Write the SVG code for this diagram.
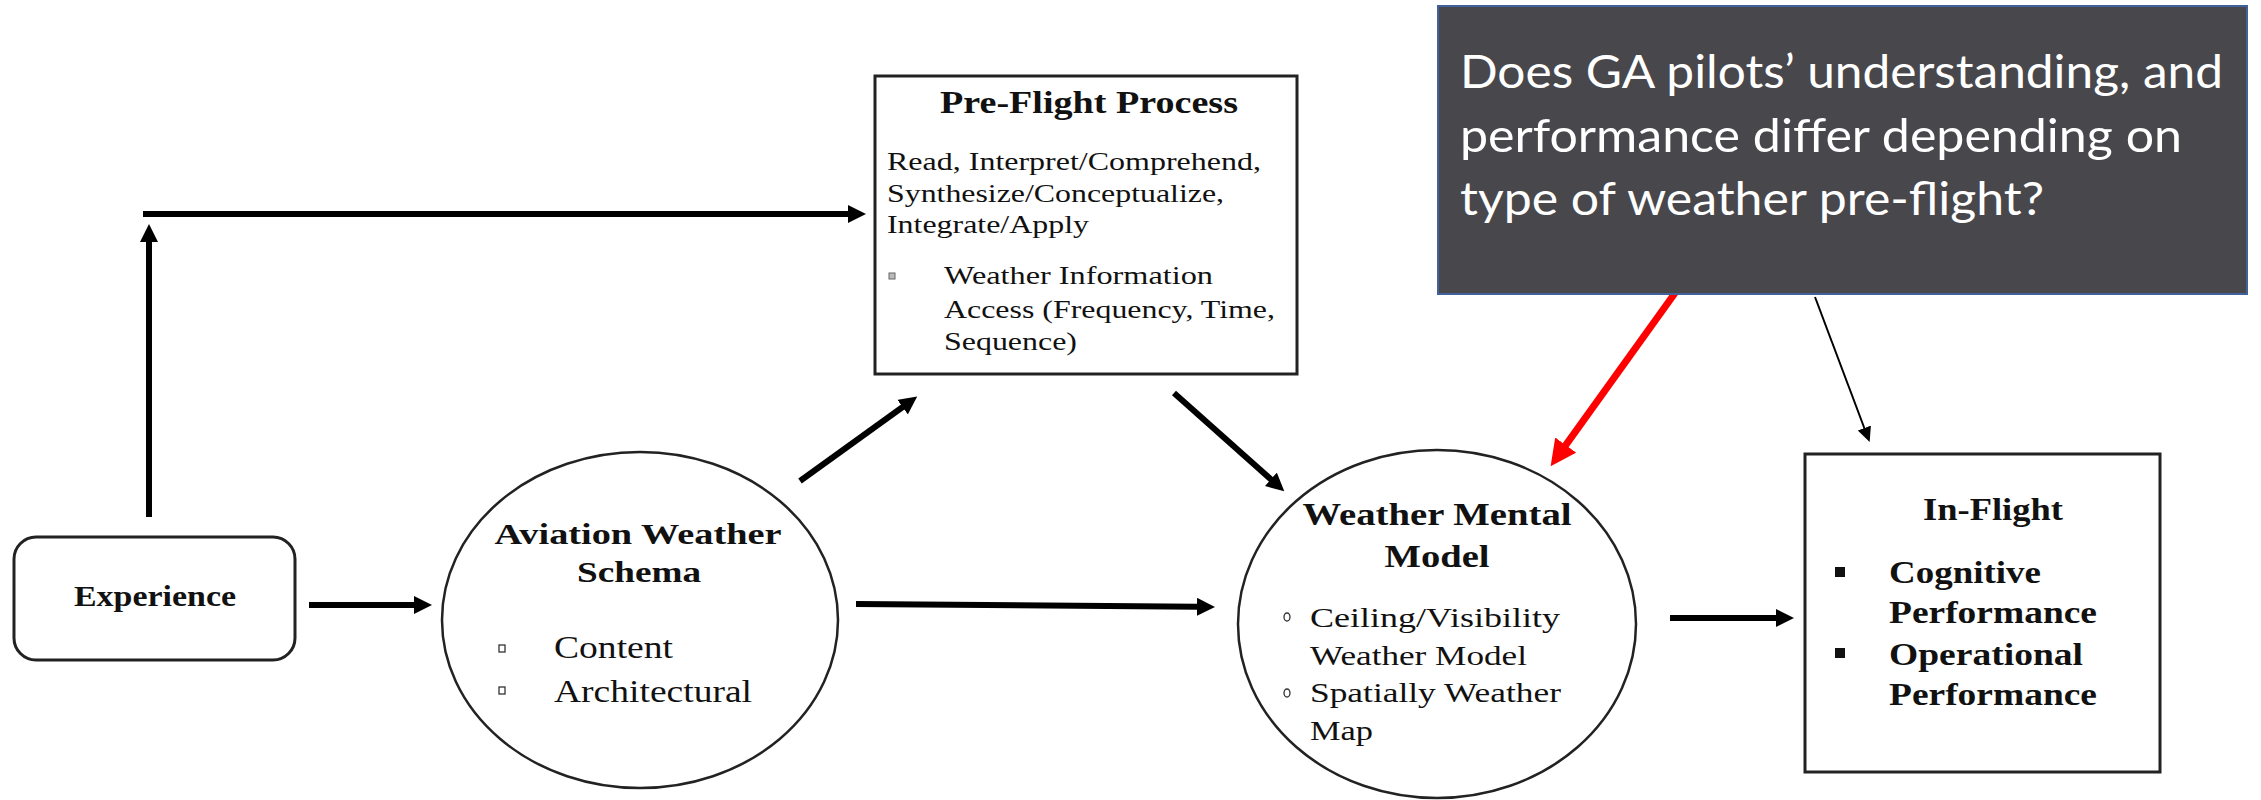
<svg xmlns="http://www.w3.org/2000/svg" width="2261" height="800" viewBox="0 0 2261 800">
<defs>
<style>
.serif{font-family:"Liberation Serif","Times New Roman",serif;fill:#111}
.b{font-weight:bold}
.box{fill:#fff;stroke:#222;stroke-width:3}
.ell{fill:#fff;stroke:#222;stroke-width:2.5}
.arr{fill:none;stroke:#000;stroke-width:6}
.q{font-family:Lato,"Open Sans",sans-serif;fill:#fff;font-size:46px}
</style>
<marker id="ah" markerUnits="userSpaceOnUse" markerWidth="18" markerHeight="18" refX="1" refY="9" orient="auto"><path d="M0,0 L18,9 L0,18 z" fill="#000"/></marker>
<marker id="ahr" markerUnits="userSpaceOnUse" markerWidth="26" markerHeight="26" refX="1" refY="13" orient="auto"><path d="M0,0 L26,13 L0,26 z" fill="#ff0000"/></marker>
<marker id="aht" markerUnits="userSpaceOnUse" markerWidth="15" markerHeight="15" refX="1" refY="7" orient="auto"><path d="M0,0 L15,7 L0,14 z" fill="#000"/></marker>
</defs>
<rect width="2261" height="800" fill="#fff"/>

<g id="connectors">
<path class="arr" d="M149,517 L149,241" marker-end="url(#ah)"/>
<path class="arr" d="M143,214 L849,214" marker-end="url(#ah)"/>
<path class="arr" d="M309,605 L415,605" marker-end="url(#ah)"/>
<path class="arr" d="M800,481 L903.4,406.5" marker-end="url(#ah)"/>
<path class="arr" d="M1174,393 L1271.6,480" marker-end="url(#ah)"/>
<path class="arr" d="M856,604 L1198,606.8" marker-end="url(#ah)"/>
<path class="arr" d="M1670,618 L1777,618" marker-end="url(#ah)"/>
<path d="M1675,293 L1565.2,445.9" fill="none" stroke="#ff0000" stroke-width="7" marker-end="url(#ahr)"/>
<path d="M1815,297 L1864.7,429" fill="none" stroke="#000" stroke-width="2" marker-end="url(#aht)"/>
</g>

<g id="experience">
<rect class="box" x="14" y="537" width="281" height="123" rx="22" ry="22" stroke-width="2.5"/>
<text class="serif b" x="155" y="606" font-size="30" text-anchor="middle" textLength="162" lengthAdjust="spacingAndGlyphs">Experience</text>
</g>

<g id="preflight">
<rect class="box" x="875" y="76" width="422" height="298"/>
<text class="serif b" x="1089" y="113" font-size="31" text-anchor="middle" textLength="298" lengthAdjust="spacingAndGlyphs">Pre-Flight Process</text>
<text class="serif" x="887" y="170" font-size="25" textLength="374" lengthAdjust="spacingAndGlyphs">Read, Interpret/Comprehend,</text>
<text class="serif" x="887" y="202" font-size="25" textLength="337" lengthAdjust="spacingAndGlyphs">Synthesize/Conceptualize,</text>
<text class="serif" x="887" y="233" font-size="25" textLength="202" lengthAdjust="spacingAndGlyphs">Integrate/Apply</text>
<rect x="889" y="273" width="6" height="6" fill="#bbb" stroke="#666" stroke-width="1"/>
<text class="serif" x="944" y="284" font-size="25" textLength="269" lengthAdjust="spacingAndGlyphs">Weather Information</text>
<text class="serif" x="944" y="318" font-size="25" textLength="331" lengthAdjust="spacingAndGlyphs">Access (Frequency, Time,</text>
<text class="serif" x="944" y="350" font-size="25" textLength="133" lengthAdjust="spacingAndGlyphs">Sequence)</text>
</g>

<g id="schema">
<ellipse class="ell" cx="640" cy="620" rx="198" ry="168"/>
<text class="serif b" x="638" y="544" font-size="29" text-anchor="middle" textLength="287" lengthAdjust="spacingAndGlyphs">Aviation Weather</text>
<text class="serif b" x="639" y="582" font-size="29" text-anchor="middle" textLength="124" lengthAdjust="spacingAndGlyphs">Schema</text>
<rect x="499" y="645" width="6" height="7" fill="none" stroke="#333" stroke-width="1.3"/>
<text class="serif" x="554" y="658" font-size="31" textLength="119" lengthAdjust="spacingAndGlyphs">Content</text>
<rect x="499" y="687" width="6" height="7" fill="none" stroke="#333" stroke-width="1.3"/>
<text class="serif" x="554" y="702" font-size="31" textLength="198" lengthAdjust="spacingAndGlyphs">Architectural</text>
</g>

<g id="mentalmodel">
<ellipse class="ell" cx="1437" cy="624" rx="199" ry="174"/>
<text class="serif b" x="1437" y="525" font-size="31" text-anchor="middle" textLength="269" lengthAdjust="spacingAndGlyphs">Weather Mental</text>
<text class="serif b" x="1437" y="567" font-size="31" text-anchor="middle" textLength="105" lengthAdjust="spacingAndGlyphs">Model</text>
<ellipse cx="1287" cy="617" rx="3" ry="4" fill="none" stroke="#333" stroke-width="1.3"/>
<text class="serif" x="1310" y="627" font-size="28" textLength="250" lengthAdjust="spacingAndGlyphs">Ceiling/Visibility</text>
<text class="serif" x="1310" y="665" font-size="28" textLength="217" lengthAdjust="spacingAndGlyphs">Weather Model</text>
<ellipse cx="1287" cy="693" rx="3" ry="4" fill="none" stroke="#333" stroke-width="1.3"/>
<text class="serif" x="1310" y="702" font-size="28" textLength="251" lengthAdjust="spacingAndGlyphs">Spatially Weather</text>
<text class="serif" x="1310" y="740" font-size="28" textLength="63" lengthAdjust="spacingAndGlyphs">Map</text>
</g>

<g id="inflight">
<rect class="box" x="1805" y="454" width="355" height="318"/>
<text class="serif b" x="1993" y="520" font-size="31" text-anchor="middle" textLength="140" lengthAdjust="spacingAndGlyphs">In-Flight</text>
<rect x="1835" y="567" width="10" height="10" fill="#111"/>
<text class="serif b" x="1889" y="583" font-size="31" textLength="152" lengthAdjust="spacingAndGlyphs">Cognitive</text>
<text class="serif b" x="1889" y="623" font-size="31" textLength="208" lengthAdjust="spacingAndGlyphs">Performance</text>
<rect x="1835" y="648" width="10" height="10" fill="#111"/>
<text class="serif b" x="1889" y="665" font-size="31" textLength="194" lengthAdjust="spacingAndGlyphs">Operational</text>
<text class="serif b" x="1889" y="705" font-size="31" textLength="208" lengthAdjust="spacingAndGlyphs">Performance</text>
</g>

<g id="question">
<rect x="1438" y="6" width="809" height="288" fill="#48474c" stroke="#41619c" stroke-width="2"/>
<text class="q" x="1460" y="88" textLength="763" lengthAdjust="spacingAndGlyphs">Does GA pilots’ understanding, and</text>
<text class="q" x="1460" y="152" textLength="722" lengthAdjust="spacingAndGlyphs">performance differ depending on</text>
<text class="q" x="1460" y="215" textLength="584" lengthAdjust="spacingAndGlyphs">type of weather pre-flight?</text>
</g>
</svg>
